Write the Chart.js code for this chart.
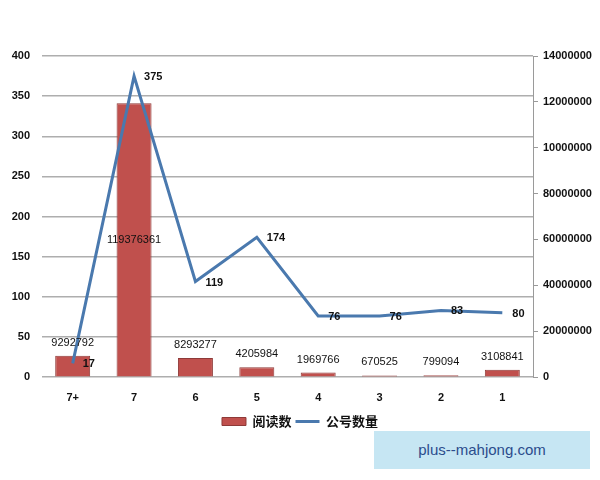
<!DOCTYPE html>
<html>
<head>
<meta charset="utf-8">
<script src="https://cdn.jsdelivr.net/npm/chart.js@4"></script>
<style>
html,body{margin:0;padding:0;background:#fff;}
#wrap{position:relative;width:600px;height:480px;}
#wm{position:absolute;left:374px;top:431px;width:216px;height:38px;background:#c6e6f3;color:#2b4c8c;font:15px "Liberation Sans",Arial,sans-serif;line-height:38px;text-align:center;}
</style>
</head>
<body>
<div id="wrap">
<canvas id="c" width="600" height="480"></canvas>
<div id="wm">plus--mahjong.com</div>
</div>
<script>
const categories = ['7+', '7', '6', '5', '4', '3', '2', '1'];
const readCounts = [9292792, 119376361, 8293277, 4205984, 1969766, 670525, 799094, 3108841];
const accountCounts = [17, 375, 119, 174, 76, 76, 83, 80];
const leftTicks = ['0', '50', '100', '150', '200', '250', '300', '350', '400'];
const rightTicks = ['0', '20000000', '40000000', '60000000', '80000000', '10000000', '12000000', '14000000'];
const seriesNames = ['阅读数', '公号数量'];

const FONT = '"Liberation Sans", Arial, sans-serif';

const labelPlugin = {
  id: 'valueLabels',
  afterDatasetsDraw(chart) {
    const ctx = chart.ctx;
    ctx.save();
    const barMeta = chart.getDatasetMeta(0);
    ctx.font = '11px ' + FONT;
    ctx.fillStyle = '#111';
    ctx.textAlign = 'center';
    ctx.textBaseline = 'middle';
    barMeta.data.forEach((el, i) => {
      let y = el.y - 13;
      if (el.base - el.y > 150) y = (el.y + el.base) / 2;
      ctx.fillText(String(readCounts[i]), el.x, y);
    });
    const lineMeta = chart.getDatasetMeta(1);
    ctx.font = 'bold 11px ' + FONT;
    ctx.textAlign = 'left';
    lineMeta.data.forEach((el, i) => {
      ctx.fillText(String(accountCounts[i]), el.x + 10, el.y + 1);
    });
    ctx.restore();
  }
};

new Chart(document.getElementById('c'), {
  data: {
    labels: categories,
    datasets: [
      {
        type: 'bar',
        label: seriesNames[0],
        data: readCounts,
        yAxisID: 'y2',
        backgroundColor: '#c0504d',
        borderColor: '#8e3a38',
        borderWidth: 1,
        barPercentage: 0.57,
        categoryPercentage: 1.0,
        pointStyle: 'rect',
        order: 1
      },
      {
        type: 'line',
        label: seriesNames[1],
        data: accountCounts,
        yAxisID: 'y',
        borderColor: '#4a79ae',
        backgroundColor: '#4a79ae',
        borderWidth: 3,
        pointRadius: 0,
        tension: 0,
        pointStyle: 'line',
        order: 0
      }
    ]
  },
  options: {
    responsive: false,
    animation: false,
    layout: { padding: { top: 56, bottom: 42, left: 0, right: 0 } },
    plugins: {
      tooltip: { enabled: false },
      legend: {
        position: 'bottom',
        labels: {
          sort: (a, b) => a.datasetIndex - b.datasetIndex,
          usePointStyle: true,
          pointStyleWidth: 24,
          boxWidth: 24,
          boxHeight: 8,
          padding: 4,
          color: '#111',
          font: { family: '"Noto Sans CJK SC", sans-serif', size: 13, weight: 'bold' }
        }
      }
    },
    scales: {
      x: {
        grid: { display: false, drawTicks: false },
        border: { display: false },
        ticks: { color: '#111', padding: 14, font: { family: FONT, size: 11, weight: 'bold' } },
        afterFit: s => { s.height = 34; }
      },
      y: {
        position: 'left',
        min: 0, max: 400,
        ticks: {
          stepSize: 50,
          padding: 12,
          color: '#111',
          font: { family: FONT, size: 11, weight: 'bold' },
          callback: (v, i) => leftTicks[i]
        },
        grid: { color: '#aeaeae', lineWidth: 1.5, drawTicks: false },
        border: { display: false },
        afterFit: s => { s.width = 42; }
      },
      y2: {
        position: 'right',
        min: 0, max: 140000000,
        ticks: {
          stepSize: 20000000,
          padding: 5,
          color: '#111',
          font: { family: FONT, size: 11, weight: 'bold' },
          callback: (v, i) => rightTicks[i]
        },
        grid: { drawOnChartArea: false, drawTicks: true, tickLength: 5, color: '#9a9a9a' },
        border: { display: true, color: '#9a9a9a', width: 1 },
        afterFit: s => { s.width = 67; }
      }
    }
  },
  plugins: [labelPlugin]
});
</script>
</body>
</html>
